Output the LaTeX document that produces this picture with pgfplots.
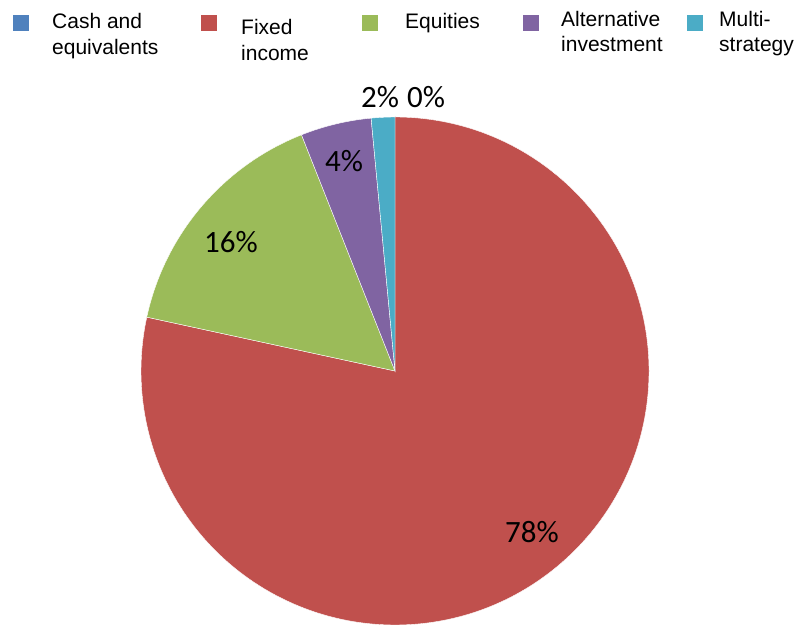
\documentclass[border=0pt]{standalone}
\usepackage{fontspec}
\setmainfont{Liberation Sans}
\newfontfamily\labfont{Carlito}
\usepackage{pgfplots}
\usepackage{pgfplotstable}
\pgfplotsset{compat=1.18}
\definecolor{cCash}{HTML}{4F81BD}
\definecolor{cFixed}{HTML}{C0504D}
\definecolor{cEq}{HTML}{9BBB59}
\definecolor{cAlt}{HTML}{8064A2}
\definecolor{cMulti}{HTML}{4BACC6}
\pgfplotstableread{
name value
Cash 0.0
Fixed 78.4
Equities 15.6
Alternative 4.5
Multi 1.5
}\piedata
\begin{document}
\begin{tikzpicture}
\pgfplotstablegetelem{0}{value}\of\piedata \let\vA\pgfplotsretval
\pgfplotstablegetelem{1}{value}\of\piedata \let\vB\pgfplotsretval
\pgfplotstablegetelem{2}{value}\of\piedata \let\vC\pgfplotsretval
\pgfplotstablegetelem{3}{value}\of\piedata \let\vD\pgfplotsretval
\pgfplotstablegetelem{4}{value}\of\piedata \let\vE\pgfplotsretval
\pgfmathsetmacro\aA{90}
\pgfmathsetmacro\aB{\aA-3.6*\vA}
\pgfmathsetmacro\aC{\aB-3.6*\vB}
\pgfmathsetmacro\aD{\aC-3.6*\vC}
\pgfmathsetmacro\aE{\aD-3.6*\vD}
\pgfmathsetmacro\aF{\aE-3.6*\vE}
\begin{axis}[scale only axis, width=796pt, height=629pt,
  xmin=0, xmax=796, ymin=0, ymax=629, hide axis, clip=false]
\path (axis cs:0,0) rectangle (axis cs:796,629);
% pie slices (centre 395,258; radius 254)
\fill[cCash, draw=white, line width=0.4pt] (axis cs:395,258) -- ++(\aA:254pt) arc[start angle=\aA, end angle=\aB, radius=254pt] -- cycle;
\fill[cFixed, draw=white, line width=0.4pt] (axis cs:395,258) -- ++(\aB:254pt) arc[start angle=\aB, end angle=\aC, radius=254pt] -- cycle;
\fill[cEq, draw=white, line width=0.4pt] (axis cs:395,258) -- ++(\aC:254pt) arc[start angle=\aC, end angle=\aD, radius=254pt] -- cycle;
\fill[cAlt, draw=white, line width=0.4pt] (axis cs:395,258) -- ++(\aD:254pt) arc[start angle=\aD, end angle=\aE, radius=254pt] -- cycle;
\fill[cMulti, draw=white, line width=0.4pt] (axis cs:395,258) -- ++(\aE:254pt) arc[start angle=\aE, end angle=\aF, radius=254pt] -- cycle;
% data labels
\begin{scope}[every node/.style={anchor=base, inner sep=0pt, font=\labfont\fontsize{31}{36}\selectfont}]
\node at (axis cs:532,86) {78\%};
\node at (axis cs:231,376) {16\%};
\node at (axis cs:344,457) {4\%};
\node at (axis cs:380,521) {2\%};
\node at (axis cs:426,521) {0\%};
\end{scope}
% legend
\fill[cCash] (axis cs:13,598) rectangle (axis cs:29,614);
\fill[cFixed] (axis cs:201,598) rectangle (axis cs:217,614);
\fill[cEq] (axis cs:362,598) rectangle (axis cs:378,614);
\fill[cAlt] (axis cs:523,598) rectangle (axis cs:539,614);
\fill[cMulti] (axis cs:687,598) rectangle (axis cs:703,614);
\begin{scope}[every node/.style={anchor=base west, inner sep=0pt, font=\fontsize{21}{25}\selectfont}]
\node at (axis cs:52,600) {Cash and};
\node at (axis cs:52,574) {equivalents};
\node at (axis cs:241,594) {Fixed};
\node at (axis cs:241,568) {income};
\node at (axis cs:405,600) {Equities};
\node at (axis cs:561,602) {Alternative};
\node at (axis cs:561,577) {investment};
\node at (axis cs:719,602) {Multi-};
\node at (axis cs:719,577) {strategy};
\end{scope}
\end{axis}
\end{tikzpicture}
\end{document}
